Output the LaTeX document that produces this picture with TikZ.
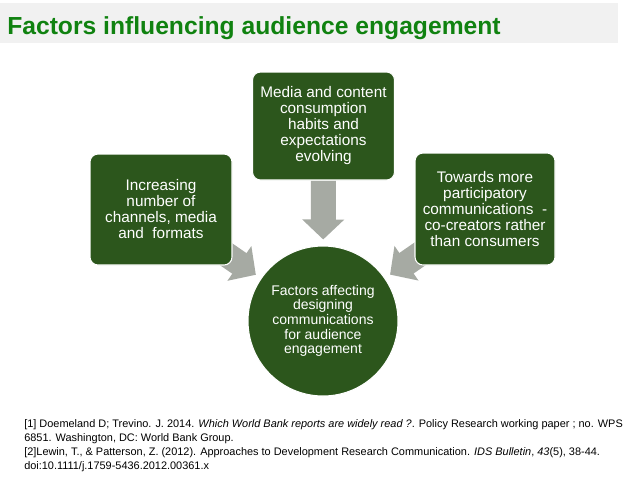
\documentclass[tikz,border=0pt]{standalone}
\usepackage{fontspec}
\setmainfont{Liberation Sans}
\usetikzlibrary{arrows.meta,backgrounds}
\definecolor{BoxClr}{RGB}{44,86,28}
\definecolor{FeedClr}{RGB}{166,170,163}
\definecolor{TitleClr}{RGB}{16,130,16}
\definecolor{BarClr}{RGB}{241,241,241}

\begin{document}
\begin{tikzpicture}[x=0.75pt,y=-0.75pt,
  box/.style={draw=white,line width=0.8pt,fill=BoxClr,rounded corners=6pt,
    text=white,align=center,inner sep=0pt,
    font=\fontsize{11.5}{12}\selectfont},
  hub/.style={circle,draw=white,line width=0.8pt,fill=BoxClr,minimum size=112.5pt,
    text=white,align=center,inner sep=0pt,
    font=\fontsize{10.5}{11}\selectfont},
  feed/.style={FeedClr,line width=18.75pt,-{Triangle[width=30.75pt,length=15pt]},
    shorten >=4.5pt}]
\useasboundingbox (0,0) rectangle (638,479);

\fill[BarClr] (0,3) rectangle (618,43);
\node[anchor=base west,inner sep=0pt,text=TitleClr,
  font=\fontsize{18.5}{22}\selectfont\bfseries] (T) at (7,34)
  {Factors influencing audience engagement};

\node[box,minimum width=106.5pt,minimum height=83.25pt] (A) at (161,209.5)
  {Increasing\\number of\\channels, media\\and\ \ formats};
\node[box,minimum width=106.5pt,minimum height=81pt] (B) at (323.5,126)
  {Media and content\\consumption\\habits and\\expectations\\evolving};
\node[box,minimum width=105pt,minimum height=84pt] (C) at (485,209)
  {Towards more\\participatory\\communications\ \ -\\co-creators rather\\than consumers};
\node[hub] (O) at (323,321)
  {Factors affecting\\designing\\communications\\for audience\\engagement};

\begin{scope}[on background layer]
\draw[feed,shorten <=-15pt] (A) -- (O);
\draw[feed] (B) -- (O);
\draw[feed,shorten <=-15pt] (C) -- (O);
\end{scope}

% references
\node[anchor=north west,inner sep=0pt,align=left,
  font=\fontsize{8.2}{10.5}\selectfont] (F) at (24,419)
  {[1] Doemeland D; Trevino. J. 2014. \textit{Which World Bank reports are widely read ?}. Policy Research working paper ; no. WPS\\
   6851. Washington, DC: World Bank Group.\\
   {[2]}Lewin, T., \& Patterson, Z. (2012). Approaches to Development Research Communication. \textit{IDS Bulletin}, \textit{43}(5), 38-44.\\
   doi:10.1111/j.1759-5436.2012.00361.x};

\end{tikzpicture}
\end{document}
